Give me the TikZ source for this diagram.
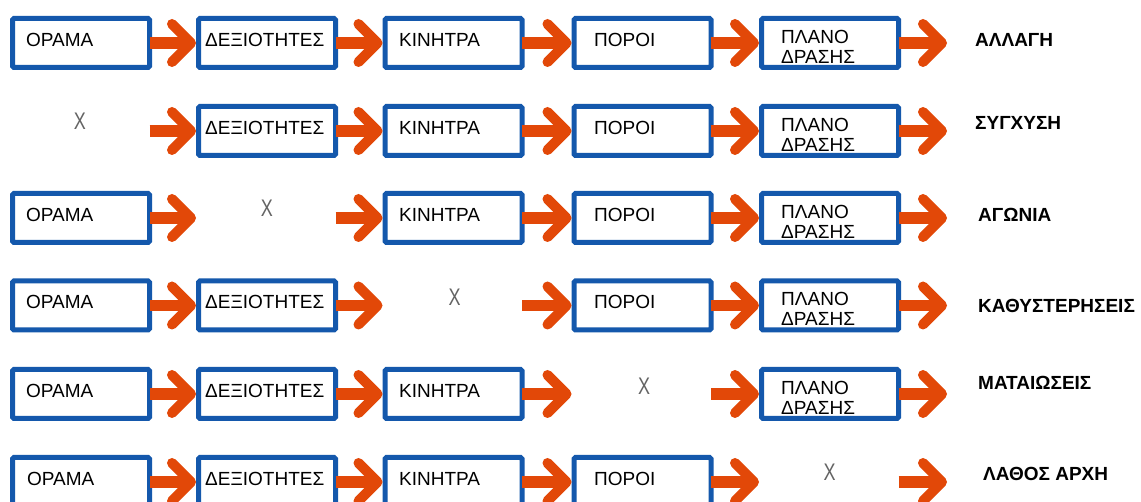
\documentclass[tikz,border=0pt]{standalone}
\usepackage{fontspec}
\setmainfont{Liberation Sans}
\definecolor{boxblue}{RGB}{20,88,172}
\definecolor{arrorange}{RGB}{226,72,8}
\definecolor{xgray}{RGB}{100,100,100}
\newcommand{\fatarrow}[2]{%
  \draw[shaft] (#1.east) -- ([xshift=-9pt]#2.west);
  \draw[barb] ([xshift=-26.5pt,yshift=19pt]#2.west) -- ([xshift=-7.5pt]#2.west) -- ([xshift=-26.5pt,yshift=-19pt]#2.west);}
\begin{document}
\begin{tikzpicture}[x=1pt,y=-1pt,
  box/.style={draw=boxblue, line width=5pt, fill=white, minimum width=137pt, minimum height=49pt, inner sep=0pt, outer sep=0pt, rounded corners=1.5pt},
  ghost/.style={minimum width=137pt, minimum height=49pt, inner sep=0pt, outer sep=0pt},
  lbl/.style={anchor=base west, inner sep=0pt, text=black, font=\fontsize{19pt}{20pt}\selectfont},
  res/.style={anchor=base west, inner sep=0pt, text=black, font=\fontsize{19pt}{20pt}\selectfont\bfseries},
  xmark/.style={inner sep=0pt, text=xgray, font=\fontsize{24pt}{24pt}\selectfont},
  shaft/.style={draw=arrorange, line width=11.5pt},
  barb/.style={draw=arrorange, line width=10pt, line cap=round, line join=round}]
\useasboundingbox[fill=white] (0,0) rectangle (1141,502);

% ---------- row 1 ----------
\node[box] (r1c1) at (81,43) {};
\node[box] (r1c2) at (267,43) {};
\node[box] (r1c3) at (453.5,43) {};
\node[box] (r1c4) at (642.5,43) {};
\node[box] (r1c5) at (830,43) {};
\coordinate (r1e) at (949.5,43);
\node[lbl] (r1t1) at (26,46.5) {ΟΡΑΜΑ};
\node[lbl] (r1t2) at (205,46.5) {ΔΕΞΙΟΤΗΤΕΣ};
\node[lbl] (r1t3) at (399,46.5) {ΚΙΝΗΤΡΑ};
\node[lbl] (r1t4) at (594,46.5) {ΠΟΡΟΙ};
\node[lbl] (r1t5) at (781,43.5) {\vtop{\hbox{ΠΛΑΝΟ}\hbox{ΔΡΑΣΗΣ}}};
\node[res] (r1r) at (975,47) {ΑΛΛΑΓΗ};
\fatarrow{r1c1}{r1c2}\fatarrow{r1c2}{r1c3}\fatarrow{r1c3}{r1c4}\fatarrow{r1c4}{r1c5}\fatarrow{r1c5}{r1e}

% ---------- row 2 ----------
\node[ghost] (r2c1) at (81,131) {};
\node[box] (r2c2) at (267,131) {};
\node[box] (r2c3) at (453.5,131) {};
\node[box] (r2c4) at (642.5,131) {};
\node[box] (r2c5) at (830,131) {};
\coordinate (r2e) at (949.5,131);
\node[xmark] (r2x) at (80,121) {\scalebox{0.75}[1]{X}};
\node[lbl] (r2t2) at (205,134.5) {ΔΕΞΙΟΤΗΤΕΣ};
\node[lbl] (r2t3) at (399,134.5) {ΚΙΝΗΤΡΑ};
\node[lbl] (r2t4) at (594,134.5) {ΠΟΡΟΙ};
\node[lbl] (r2t5) at (781,131.5) {\vtop{\hbox{ΠΛΑΝΟ}\hbox{ΔΡΑΣΗΣ}}};
\node[res] (r2r) at (975,129.5) {ΣΥΓΧΥΣΗ};
\fatarrow{r2c1}{r2c2}\fatarrow{r2c2}{r2c3}\fatarrow{r2c3}{r2c4}\fatarrow{r2c4}{r2c5}\fatarrow{r2c5}{r2e}

% ---------- row 3 ----------
\node[box] (r3c1) at (81,218) {};
\node[ghost] (r3c2) at (267,218) {};
\node[box] (r3c3) at (453.5,218) {};
\node[box] (r3c4) at (642.5,218) {};
\node[box] (r3c5) at (830,218) {};
\coordinate (r3e) at (949.5,218);
\node[lbl] (r3t1) at (26,221.5) {ΟΡΑΜΑ};
\node[xmark] (r3x) at (267,208.5) {\scalebox{0.75}[1]{X}};
\node[lbl] (r3t3) at (399,221.5) {ΚΙΝΗΤΡΑ};
\node[lbl] (r3t4) at (594,221.5) {ΠΟΡΟΙ};
\node[lbl] (r3t5) at (781,218.5) {\vtop{\hbox{ΠΛΑΝΟ}\hbox{ΔΡΑΣΗΣ}}};
\node[res] (r3r) at (978,222) {ΑΓΩΝΙΑ};
\fatarrow{r3c1}{r3c2}\fatarrow{r3c2}{r3c3}\fatarrow{r3c3}{r3c4}\fatarrow{r3c4}{r3c5}\fatarrow{r3c5}{r3e}

% ---------- row 4 ----------
\node[box] (r4c1) at (81,305.5) {};
\node[box] (r4c2) at (267,305.5) {};
\node[ghost] (r4c3) at (453.5,305.5) {};
\node[box] (r4c4) at (642.5,305.5) {};
\node[box] (r4c5) at (830,305.5) {};
\coordinate (r4e) at (949.5,305.5);
\node[lbl] (r4t1) at (26,309) {ΟΡΑΜΑ};
\node[lbl] (r4t2) at (205,309) {ΔΕΞΙΟΤΗΤΕΣ};
\node[xmark] (r4x) at (454.5,297.5) {\scalebox{0.75}[1]{X}};
\node[lbl] (r4t4) at (594,309) {ΠΟΡΟΙ};
\node[lbl] (r4t5) at (781,306) {\vtop{\hbox{ΠΛΑΝΟ}\hbox{ΔΡΑΣΗΣ}}};
\node[res] (r4r) at (978,313) {ΚΑΘΥΣΤΕΡΗΣΕΙΣ};
\fatarrow{r4c1}{r4c2}\fatarrow{r4c2}{r4c3}\fatarrow{r4c3}{r4c4}\fatarrow{r4c4}{r4c5}\fatarrow{r4c5}{r4e}

% ---------- row 5 ----------
\node[box] (r5c1) at (81,394) {};
\node[box] (r5c2) at (267,394) {};
\node[box] (r5c3) at (453.5,394) {};
\node[ghost] (r5c4) at (642.5,394) {};
\node[box] (r5c5) at (830,394) {};
\coordinate (r5e) at (949.5,394);
\node[lbl] (r5t1) at (26,397.5) {ΟΡΑΜΑ};
\node[lbl] (r5t2) at (205,397.5) {ΔΕΞΙΟΤΗΤΕΣ};
\node[lbl] (r5t3) at (399,397.5) {ΚΙΝΗΤΡΑ};
\node[xmark] (r5x) at (644,386) {\scalebox{0.75}[1]{X}};
\node[lbl] (r5t5) at (781,394.5) {\vtop{\hbox{ΠΛΑΝΟ}\hbox{ΔΡΑΣΗΣ}}};
\node[res] (r5r) at (978,390) {ΜΑΤΑΙΩΣΕΙΣ};
\fatarrow{r5c1}{r5c2}\fatarrow{r5c2}{r5c3}\fatarrow{r5c3}{r5c4}\fatarrow{r5c4}{r5c5}\fatarrow{r5c5}{r5e}

% ---------- row 6 ----------
\node[box] (r6c1) at (81,482) {};
\node[box] (r6c2) at (267,482) {};
\node[box] (r6c3) at (453.5,482) {};
\node[box] (r6c4) at (642.5,482) {};
\node[ghost] (r6c5) at (830,482) {};
\coordinate (r6e) at (949.5,482);
\node[lbl] (r6t1) at (27,485.5) {ΟΡΑΜΑ};
\node[lbl] (r6t2) at (205,485.5) {ΔΕΞΙΟΤΗΤΕΣ};
\node[lbl] (r6t3) at (399,485.5) {ΚΙΝΗΤΡΑ};
\node[lbl] (r6t4) at (594,485.5) {ΠΟΡΟΙ};
\node[xmark] (r6x) at (829.5,472) {\scalebox{0.75}[1]{X}};
\node[res] (r6r) at (983,480) {ΛΑΘΟΣ ΑΡΧΗ};
\fatarrow{r6c1}{r6c2}\fatarrow{r6c2}{r6c3}\fatarrow{r6c3}{r6c4}\fatarrow{r6c4}{r6c5}\fatarrow{r6c5}{r6e}
\end{tikzpicture}
\end{document}
